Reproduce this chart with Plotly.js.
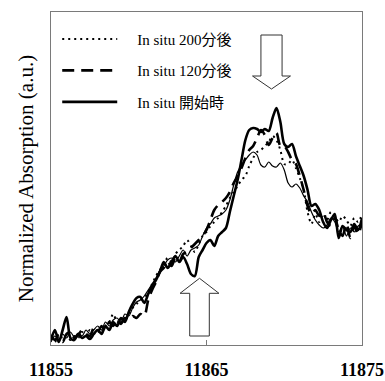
<!DOCTYPE html>
<html>
<head>
<meta charset="utf-8">
<script src="https://cdn.plot.ly/plotly-3.0.1.min.js"></script>
<style>html,body{margin:0;padding:0;background:#fff;}#chart{width:385px;height:381px;}</style>
</head>
<body>
<div id="chart"></div>
<script>
// Photon energy (eV)
var energy = [11855,11855.25,11855.5,11855.75,11856,11856.25,11856.5,11856.75,11857,11857.25,11857.5,
11857.75,11858,11858.25,11858.5,11858.75,11859,11859.25,11859.5,11859.75,11860,
11860.25,11860.5,11860.75,11861,11861.25,11861.5,11861.75,11862,11862.25,11862.5,
11862.75,11863,11863.25,11863.5,11863.75,11864,11864.25,11864.5,11864.75,11865,
11865.25,11865.5,11865.75,11866,11866.25,11866.5,11866.75,11867,11867.25,11867.5,
11867.75,11868,11868.25,11868.5,11868.75,11869,11869.25,11869.5,11869.75,11870,
11870.25,11870.5,11870.75,11871,11871.25,11871.5,11871.75,11872,11872.25,11872.5,
11872.75,11873,11873.25,11873.5,11873.75,11874,11874.25,11874.5,11874.75,11875];

// In situ 200分後 (dotted)
var after200 = [0.07,0.03,0.11,0.07,0.10,0.05,0.09,0.07,0.13,0.09,0.15,
0.11,0.15,0.13,0.19,0.23,0.31,0.23,0.27,0.25,0.31,
0.37,0.41,0.45,0.47,0.53,0.61,0.69,0.75,0.81,0.87,
0.83,0.91,0.95,0.99,1.05,0.99,0.93,1.01,1.09,1.13,
1.19,1.23,1.27,1.33,1.39,1.47,1.53,1.59,1.65,1.69,
1.79,1.87,1.93,1.95,1.99,2.03,2.09,2.05,1.95,1.81,
1.81,1.85,1.77,1.67,1.55,1.33,1.21,1.31,1.23,1.31,
1.25,1.33,1.29,1.23,1.29,1.25,1.19,1.27,1.23,1.31];

// In situ 120分後 (dashed)
var after120 = [0.10,0.05,0.09,0.03,0.11,0.13,0.07,0.10,0.15,0.11,0.09,
0.17,0.13,0.19,0.15,0.23,0.19,0.25,0.21,0.27,0.25,
0.29,0.27,0.31,0.29,0.45,0.55,0.63,0.73,0.77,0.83,
0.79,0.87,0.83,0.91,0.93,0.97,1.01,1.05,1.09,1.15,
1.25,1.35,1.40,1.43,1.47,1.53,1.62,1.69,1.77,1.87,
1.95,1.99,2.07,2.15,2.10,2.00,2.07,2.12,1.99,1.99,
1.93,1.85,1.81,1.69,1.55,1.39,1.31,1.35,1.29,1.33,
1.23,1.19,1.27,1.15,1.09,1.21,1.07,1.19,1.11,1.23];

// In situ 開始時 (thick solid)
var start = [0.05,0.15,0.03,0.15,0.28,0.07,0.05,0.11,0.07,0.09,0.06,
0.11,0.15,0.11,0.19,0.15,0.23,0.19,0.27,0.23,0.33,
0.41,0.47,0.48,0.42,0.51,0.59,0.65,0.73,0.83,0.77,
0.83,0.89,0.83,0.88,0.81,0.71,0.69,0.88,0.95,1.02,
1.05,0.99,1.09,1.13,1.17,1.33,1.49,1.65,1.85,2.05,
2.15,2.17,2.16,2.13,2.16,2.14,2.27,2.37,2.23,2.01,
1.98,2.01,1.89,1.79,1.69,1.55,1.39,1.41,1.35,1.23,
1.17,1.25,1.31,1.07,1.19,1.15,1.13,1.21,1.15,1.27];

// Additional spectrum (thin solid, no legend entry)
var thinCurve = [0.03,0.09,0.05,0.11,0.07,0.13,0.08,0.12,0.09,0.15,0.11,
0.15,0.19,0.15,0.23,0.19,0.25,0.27,0.23,0.31,0.29,
0.37,0.43,0.45,0.49,0.55,0.61,0.67,0.75,0.79,0.85,
0.87,0.83,0.89,0.95,0.89,0.95,0.97,1.00,1.09,1.17,
1.21,1.27,1.29,1.31,1.35,1.45,1.60,1.73,1.80,1.85,
1.90,1.93,1.90,1.80,1.78,1.83,1.79,1.78,1.82,1.75,
1.62,1.58,1.61,1.57,1.49,1.43,1.33,1.25,1.20,1.17,
1.20,1.27,1.23,1.13,1.19,1.09,1.17,1.13,1.19,1.21];

var seriesNames = ['In situ 200分後', 'In situ 120分後', 'In situ 開始時'];
var tickValues = [11855, 11865, 11875];
var tickLabels = ['11855', '11865', '11875'];
var xRange = [11855, 11875];
var yRange = [0, 3.33];
// arrow markers: [centre energy, tip level, head-base level, tail level]
var downArrow = [11869.18, 2.56, 2.69, 3.10];
var upArrow = [11864.55, 0.667, 0.517, 0.09];

var serif = '"Liberation Serif", "Times New Roman", "Noto Sans CJK JP", serif';
var pad = '\u00a0\u00a0\u00a0\u00a0';

var traces = [
  {x: energy, y: after200, name: pad + seriesNames[0], mode: 'lines', legendgroup: 'a',
   line: {color: '#000', width: 2, dash: '2px,4px', shape: 'spline', smoothing: 0.8}},
  {x: energy, y: after120, name: pad + seriesNames[1], mode: 'lines', legendgroup: 'b',
   line: {color: '#000', width: 2.6, dash: '12px,7px', shape: 'spline', smoothing: 0.8}},
  {x: energy, y: start, name: pad + seriesNames[2], mode: 'lines', legendgroup: 'c',
   line: {color: '#000', width: 2.6, shape: 'spline', smoothing: 0.8}},
  {x: energy, y: thinCurve, name: 'thin', mode: 'lines', showlegend: false,
   line: {color: '#000', width: 1.2, shape: 'spline', smoothing: 0.8}}
];

function arrowPath(a, shaftHalf, headHalf) {
  var c = a[0], tip = a[1], base = a[2], tail = a[3];
  return 'M' + (c - shaftHalf) + ',' + tail + ' L' + (c + shaftHalf) + ',' + tail +
    ' L' + (c + shaftHalf) + ',' + base + ' L' + (c + headHalf) + ',' + base +
    ' L' + c + ',' + tip + ' L' + (c - headHalf) + ',' + base +
    ' L' + (c - shaftHalf) + ',' + base + ' Z';
}

var layout = {
  width: 385, height: 381,
  margin: {l: 51, r: 23, t: 12, b: 36},
  paper_bgcolor: '#fff', plot_bgcolor: '#fff',
  font: {family: serif, color: '#000'},
  showlegend: true,
  legend: {x: 0.02, y: 0.968, xanchor: 'left', yanchor: 'top', bgcolor: 'rgba(0,0,0,0)',
           font: {family: serif, size: 15, color: '#000'}, itemwidth: 55, tracegroupgap: 9},
  xaxis: {range: xRange, tickmode: 'array', tickvals: tickValues, ticktext: tickLabels,
          ticks: 'inside', ticklen: 5, tickcolor: '#7a7a7a', showgrid: false, zeroline: false,
          showline: true, mirror: true, linecolor: '#7a7a7a', linewidth: 1,
          tickfont: {family: serif, size: 18, color: '#000', weight: 'bold'}, ticklabelstandoff: 8},
  yaxis: {range: yRange, showticklabels: false, ticks: '', showgrid: false, zeroline: false,
          showline: true, mirror: true, linecolor: '#7a7a7a', linewidth: 1,
          title: {text: 'Normalized Absorption (a.u.)', font: {family: serif, size: 21, color: '#000'}, standoff: 10}},
  shapes: [
    {type: 'path', xref: 'x', yref: 'y', path: arrowPath(downArrow, 0.68, 1.22),
     line: {color: '#333', width: 1}, fillcolor: '#fff', layer: 'above'},
    {type: 'path', xref: 'x', yref: 'y', path: arrowPath(upArrow, 0.63, 1.25),
     line: {color: '#333', width: 1}, fillcolor: '#fff', layer: 'above'}
  ]
};

Plotly.newPlot('chart', traces, layout, {staticPlot: true, displayModeBar: false});
</script>
</body>
</html>
